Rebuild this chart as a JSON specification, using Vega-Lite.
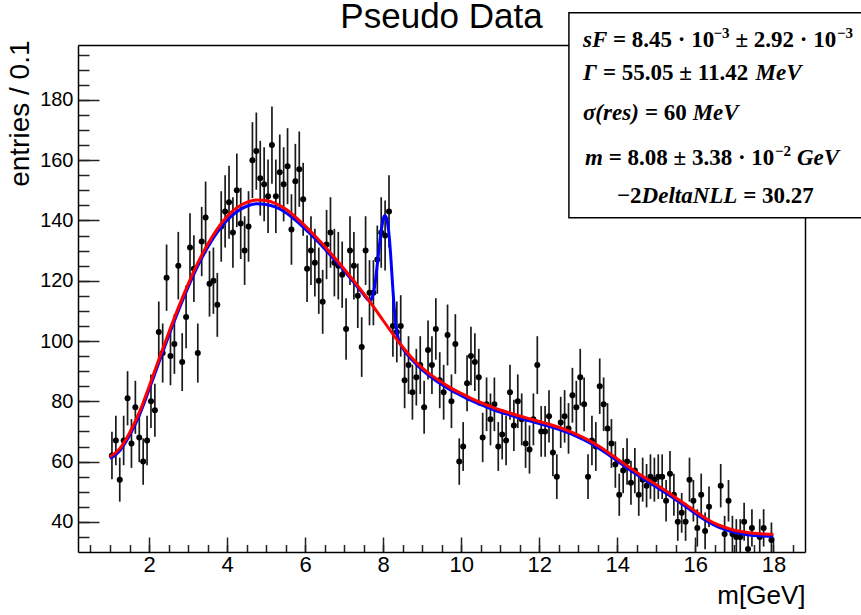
{
  "$schema": "https://vega.github.io/schema/vega-lite/v6.json",
  "width": 727,
  "height": 507,
  "autosize": {"type": "none"},
  "padding": {"left": 78, "top": 45, "right": 56, "bottom": 63},
  "background": "white",
  "config": {
    "view": {"stroke": null},
    "font": "Liberation Sans",
    "text": {"font": "Liberation Serif", "fontSize": 23, "fontWeight": "bold", "color": "black", "align": "left", "baseline": "middle"}
  },
  "datasets": {
    "pts": [
      {"x":1.05,"y":62,"e":7.9},{"x":1.15,"y":67,"e":8.2},{"x":1.25,"y":54,"e":7.3},{"x":1.35,"y":67,"e":8.2},{"x":1.45,"y":81,"e":9.0},
      {"x":1.55,"y":66,"e":8.1},{"x":1.65,"y":78,"e":8.8},{"x":1.75,"y":68,"e":8.2},{"x":1.85,"y":60,"e":7.7},{"x":1.95,"y":67,"e":8.2},
      {"x":2.05,"y":80,"e":8.9},{"x":2.15,"y":77,"e":8.8},{"x":2.25,"y":103,"e":10.1},{"x":2.35,"y":96,"e":9.8},{"x":2.45,"y":121,"e":11.0},
      {"x":2.55,"y":95,"e":9.7},{"x":2.65,"y":99,"e":9.9},{"x":2.75,"y":125,"e":11.2},{"x":2.85,"y":93,"e":9.6},{"x":2.95,"y":108,"e":10.4},
      {"x":3.05,"y":131,"e":11.4},{"x":3.15,"y":124,"e":11.1},{"x":3.25,"y":96,"e":9.8},{"x":3.35,"y":133,"e":11.5},{"x":3.45,"y":141,"e":11.9},
      {"x":3.55,"y":119,"e":10.9},{"x":3.65,"y":120,"e":11.0},{"x":3.75,"y":112,"e":10.6},{"x":3.85,"y":138,"e":11.7},{"x":3.95,"y":143,"e":12.0},
      {"x":4.05,"y":146,"e":12.1},{"x":4.15,"y":136,"e":11.7},{"x":4.25,"y":150,"e":12.2},{"x":4.35,"y":139,"e":11.8},{"x":4.45,"y":130,"e":11.4},
      {"x":4.55,"y":138,"e":11.7},{"x":4.65,"y":160,"e":12.6},{"x":4.75,"y":163,"e":12.8},{"x":4.85,"y":154,"e":12.4},{"x":4.95,"y":152,"e":12.3},
      {"x":5.05,"y":148,"e":12.2},{"x":5.15,"y":165,"e":12.8},{"x":5.25,"y":148,"e":12.2},{"x":5.35,"y":156,"e":12.5},{"x":5.45,"y":152,"e":12.3},
      {"x":5.55,"y":158,"e":12.6},{"x":5.65,"y":137,"e":11.7},{"x":5.75,"y":153,"e":12.4},{"x":5.85,"y":157,"e":12.5},{"x":5.95,"y":147,"e":12.1},
      {"x":6.05,"y":124,"e":11.1},{"x":6.15,"y":130,"e":11.4},{"x":6.25,"y":126,"e":11.2},{"x":6.35,"y":120,"e":11.0},{"x":6.45,"y":113,"e":10.6},
      {"x":6.55,"y":132,"e":11.5},{"x":6.65,"y":136,"e":11.7},{"x":6.75,"y":126,"e":11.2},{"x":6.85,"y":125,"e":11.2},{"x":6.95,"y":122,"e":11.0},
      {"x":7.05,"y":104,"e":10.2},{"x":7.15,"y":130,"e":11.4},{"x":7.25,"y":125,"e":11.2},{"x":7.35,"y":115,"e":10.7},{"x":7.45,"y":98,"e":9.9},
      {"x":7.55,"y":130,"e":11.4},{"x":7.65,"y":116,"e":10.8},{"x":7.75,"y":116,"e":10.8},{"x":7.85,"y":127,"e":11.3},{"x":7.95,"y":136,"e":11.7},
      {"x":8.05,"y":135,"e":11.6},{"x":8.15,"y":143,"e":12.0},{"x":8.25,"y":105,"e":10.2},{"x":8.35,"y":103,"e":10.1},{"x":8.45,"y":105,"e":10.2},
      {"x":8.55,"y":87,"e":9.3},{"x":8.65,"y":92,"e":9.6},{"x":8.75,"y":83,"e":9.1},{"x":8.85,"y":88,"e":9.4},{"x":8.95,"y":92,"e":9.6},
      {"x":9.05,"y":78,"e":8.8},{"x":9.15,"y":97,"e":9.8},{"x":9.25,"y":92,"e":9.6},{"x":9.35,"y":104,"e":10.2},{"x":9.45,"y":87,"e":9.3},
      {"x":9.55,"y":83,"e":9.1},{"x":9.65,"y":102,"e":10.1},{"x":9.75,"y":80,"e":8.9},{"x":9.85,"y":99,"e":9.9},{"x":9.95,"y":60,"e":7.7},
      {"x":10.05,"y":65,"e":8.1},{"x":10.15,"y":86,"e":9.3},{"x":10.25,"y":95,"e":9.7},{"x":10.35,"y":93,"e":9.6},{"x":10.45,"y":88,"e":9.4},
      {"x":10.55,"y":68,"e":8.2},{"x":10.65,"y":79,"e":8.9},{"x":10.75,"y":74,"e":8.6},{"x":10.85,"y":79,"e":8.9},{"x":10.95,"y":65,"e":8.1},
      {"x":11.05,"y":69,"e":8.3},{"x":11.15,"y":67,"e":8.2},{"x":11.25,"y":83,"e":9.1},{"x":11.35,"y":72,"e":8.5},{"x":11.45,"y":80,"e":8.9},
      {"x":11.55,"y":74,"e":8.6},{"x":11.65,"y":66,"e":8.1},{"x":11.75,"y":64,"e":8.0},{"x":11.85,"y":74,"e":8.6},{"x":11.95,"y":92,"e":9.6},
      {"x":12.05,"y":70,"e":8.4},{"x":12.15,"y":70,"e":8.4},{"x":12.25,"y":75,"e":8.7},{"x":12.35,"y":63,"e":7.9},{"x":12.45,"y":55,"e":7.4},
      {"x":12.55,"y":73,"e":8.5},{"x":12.65,"y":75,"e":8.7},{"x":12.75,"y":71,"e":8.4},{"x":12.85,"y":82,"e":9.1},{"x":12.95,"y":78,"e":8.8},
      {"x":13.05,"y":88,"e":9.4},{"x":13.15,"y":79,"e":8.9},{"x":13.25,"y":55,"e":7.4},{"x":13.35,"y":67,"e":8.2},{"x":13.45,"y":65,"e":8.1},
      {"x":13.55,"y":85,"e":9.2},{"x":13.65,"y":79,"e":8.9},{"x":13.75,"y":71,"e":8.4},{"x":13.85,"y":66,"e":8.1},{"x":13.95,"y":59,"e":7.7},
      {"x":14.05,"y":49,"e":7.0},{"x":14.15,"y":57,"e":7.5},{"x":14.25,"y":60,"e":7.7},{"x":14.35,"y":53,"e":7.3},{"x":14.45,"y":57,"e":7.5},
      {"x":14.55,"y":49,"e":7.0},{"x":14.65,"y":54,"e":7.3},{"x":14.75,"y":52,"e":7.2},{"x":14.85,"y":55,"e":7.4},{"x":14.95,"y":54,"e":7.3},
      {"x":15.05,"y":55,"e":7.4},{"x":15.15,"y":55,"e":7.4},{"x":15.25,"y":47,"e":6.9},{"x":15.35,"y":56,"e":7.5},{"x":15.45,"y":49,"e":7.0},
      {"x":15.55,"y":40,"e":6.3},{"x":15.65,"y":43,"e":6.6},{"x":15.75,"y":40,"e":6.3},{"x":15.85,"y":54,"e":7.3},{"x":15.95,"y":47,"e":6.9},
      {"x":16.05,"y":38,"e":6.2},{"x":16.15,"y":49,"e":7.0},{"x":16.25,"y":37,"e":6.1},{"x":16.35,"y":45,"e":6.7},{"x":16.65,"y":52,"e":7.2},
      {"x":16.75,"y":36,"e":6.0},{"x":16.85,"y":47,"e":6.9},{"x":16.95,"y":36,"e":6.0},{"x":17.05,"y":35,"e":5.9},{"x":17.15,"y":35,"e":5.9},
      {"x":17.25,"y":40,"e":6.3},{"x":17.35,"y":31,"e":5.6},{"x":17.45,"y":38,"e":6.2},{"x":17.65,"y":35,"e":5.9},{"x":17.75,"y":38,"e":6.2},
      {"x":17.95,"y":34,"e":5.8}
    ],
    "red": [
      {"x":1.0,"y":61.6},{"x":1.25,"y":64.3},{"x":1.5,"y":69.5},{"x":1.75,"y":76.3},{"x":2.0,"y":84.8},{"x":2.25,"y":93.8},
      {"x":2.5,"y":102.6},{"x":2.75,"y":111.0},{"x":3.0,"y":118.8},{"x":3.25,"y":125.9},{"x":3.5,"y":132.0},{"x":3.75,"y":137.2},
      {"x":4.0,"y":141.3},{"x":4.25,"y":144.2},{"x":4.5,"y":146.0},{"x":4.75,"y":146.8},{"x":5.0,"y":146.6},{"x":5.25,"y":145.6},
      {"x":5.5,"y":143.8},{"x":5.75,"y":141.2},{"x":6.0,"y":138.2},{"x":6.25,"y":134.9},{"x":6.5,"y":131.4},{"x":6.75,"y":127.7},
      {"x":7.0,"y":123.9},{"x":7.25,"y":119.9},{"x":7.5,"y":115.8},{"x":7.75,"y":111.4},{"x":8.0,"y":106.8},{"x":8.25,"y":102.3},
      {"x":8.5,"y":98.0},{"x":8.75,"y":94.2},{"x":9.0,"y":91.1},{"x":9.25,"y":88.5},{"x":9.5,"y":86.3},{"x":9.75,"y":84.3},
      {"x":10.0,"y":82.6},{"x":10.25,"y":81.0},{"x":10.5,"y":79.6},{"x":10.75,"y":78.3},{"x":11.0,"y":77.1},{"x":11.25,"y":76.1},
      {"x":11.5,"y":75.1},{"x":11.75,"y":74.2},{"x":12.0,"y":73.3},{"x":12.25,"y":72.4},{"x":12.5,"y":71.4},{"x":12.75,"y":70.2},
      {"x":13.0,"y":68.8},{"x":13.25,"y":67.2},{"x":13.5,"y":65.3},{"x":13.75,"y":63.2},{"x":14.0,"y":60.9},{"x":14.25,"y":58.6},
      {"x":14.5,"y":56.4},{"x":14.75,"y":54.3},{"x":15.0,"y":52.3},{"x":15.25,"y":50.2},{"x":15.5,"y":48.0},{"x":15.75,"y":45.8},
      {"x":16.0,"y":43.5},{"x":16.25,"y":41.3},{"x":16.5,"y":39.5},{"x":16.75,"y":38.2},{"x":17.0,"y":37.2},{"x":17.25,"y":36.6},
      {"x":17.5,"y":36.2},{"x":17.75,"y":36.0},{"x":18.0,"y":35.9}
    ],
    "blue": [
      {"x":1.0,"y":61.0},{"x":1.25,"y":63.6},{"x":1.5,"y":68.6},{"x":1.75,"y":75.3},{"x":2.0,"y":83.8},{"x":2.25,"y":92.8},
      {"x":2.5,"y":101.6},{"x":2.75,"y":110.0},{"x":3.0,"y":117.8},{"x":3.25,"y":124.9},{"x":3.5,"y":131.0},{"x":3.75,"y":136.1},
      {"x":4.0,"y":140.1},{"x":4.25,"y":142.9},{"x":4.5,"y":144.7},{"x":4.75,"y":145.5},{"x":5.0,"y":145.3},{"x":5.25,"y":144.4},
      {"x":5.5,"y":142.6},{"x":5.75,"y":140.1},{"x":6.0,"y":137.2},{"x":6.25,"y":134.0},{"x":6.5,"y":130.6},{"x":6.75,"y":127.0},
      {"x":7.0,"y":123.3},{"x":7.25,"y":119.4},{"x":7.4,"y":117.0},{"x":7.5,"y":115.4},{"x":7.6,"y":113.8},{"x":7.65,"y":113.3},
      {"x":7.7,"y":113.9},{"x":7.75,"y":115.8},{"x":7.8,"y":119.8},{"x":7.85,"y":125.5},{"x":7.9,"y":131.2},{"x":7.95,"y":136.5},
      {"x":8.0,"y":140.3},{"x":8.04,"y":141.6},{"x":8.08,"y":141.0},{"x":8.12,"y":138.5},{"x":8.16,"y":134.0},{"x":8.2,"y":127.0},
      {"x":8.25,"y":117.0},{"x":8.3,"y":108.5},{"x":8.35,"y":103.0},{"x":8.4,"y":100.2},{"x":8.5,"y":97.6},{"x":8.75,"y":93.6},
      {"x":9.0,"y":90.4},{"x":9.25,"y":87.8},{"x":9.5,"y":85.6},{"x":9.75,"y":83.6},{"x":10.0,"y":81.9},{"x":10.25,"y":80.3},
      {"x":10.5,"y":78.9},{"x":10.75,"y":77.6},{"x":11.0,"y":76.4},{"x":11.25,"y":75.4},{"x":11.5,"y":74.4},{"x":11.75,"y":73.5},
      {"x":12.0,"y":72.6},{"x":12.25,"y":71.7},{"x":12.5,"y":70.7},{"x":12.75,"y":69.5},{"x":13.0,"y":68.1},{"x":13.25,"y":66.5},
      {"x":13.5,"y":64.6},{"x":13.75,"y":62.5},{"x":14.0,"y":60.2},{"x":14.25,"y":57.9},{"x":14.5,"y":55.7},{"x":14.75,"y":53.6},
      {"x":15.0,"y":51.6},{"x":15.25,"y":49.5},{"x":15.5,"y":47.3},{"x":15.75,"y":45.1},{"x":16.0,"y":42.8},{"x":16.25,"y":40.6},
      {"x":16.5,"y":38.8},{"x":16.75,"y":37.5},{"x":17.0,"y":36.5},{"x":17.25,"y":35.9},{"x":17.5,"y":35.5},{"x":17.75,"y":35.3},
      {"x":18.0,"y":35.2}
    ]
  },
  "layer": [
    {
      "data": {"name": "pts"},
      "mark": {"type": "errorbar", "ticks": false, "color": "#1a1a1a", "thickness": 1.7, "clip": true},
      "encoding": {
        "x": {"field": "x", "type": "quantitative", "scale": {"domain": [0.18, 18.81], "nice": false, "zero": false},
          "axis": {"orient": "bottom", "values": [0.5,1,1.5,2,2.5,3,3.5,4,4.5,5,5.5,6,6.5,7,7.5,8,8.5,9,9.5,10,10.5,11,11.5,12,12.5,13,13.5,14,14.5,15,15.5,16,16.5,17,17.5,18,18.5],
            "labels": false, "domain": false, "grid": false, "ticks": true, "tickSize": -7.5, "tickColor": "#222", "tickWidth": 1.5, "title": null}},
        "y": {"field": "y", "type": "quantitative", "scale": {"domain": [30, 198.2], "nice": false, "zero": false},
          "axis": {"orient": "left", "values": [35,40,45,50,55,60,65,70,75,80,85,90,95,100,105,110,115,120,125,130,135,140,145,150,155,160,165,170,175,180,185,190,195],
            "labels": false, "domain": false, "grid": false, "ticks": true, "tickSize": -11, "tickColor": "#222", "tickWidth": 1.5, "title": null}},
        "yError": {"field": "e"}
      }
    },
    {
      "data": {"name": "pts"},
      "mark": {"type": "circle", "size": 36, "color": "black", "opacity": 1, "clip": true},
      "encoding": {
        "x": {"field": "x", "type": "quantitative", "scale": {"domain": [0.18, 18.81], "nice": false, "zero": false},
          "axis": {"orient": "bottom", "values": [2,4,6,8,10,12,14,16,18], "labels": false, "domain": false, "grid": false, "ticks": true, "tickSize": -15, "tickColor": "#222", "tickWidth": 1.5, "title": null}},
        "y": {"field": "y", "type": "quantitative", "scale": {"domain": [30, 198.2], "nice": false, "zero": false},
          "axis": {"orient": "left", "values": [40,60,80,100,120,140,160,180], "labels": false, "domain": false, "grid": false, "ticks": true, "tickSize": -21, "tickColor": "#222", "tickWidth": 1.5, "title": null}}
      }
    },
    {
      "data": {"name": "blue"},
      "mark": {"type": "line", "color": "#0000ff", "strokeWidth": 3, "interpolate": "monotone"},
      "encoding": {
        "x": {"field": "x", "type": "quantitative", "scale": {"domain": [0.18, 18.81], "nice": false, "zero": false},
          "axis": {"orient": "bottom", "values": [2,4,6,8,10,12,14,16,18], "ticks": false, "grid": false, "domain": true, "domainColor": "black", "domainWidth": 1.5,
            "labelFont": "Liberation Sans", "labelFontSize": 22, "labelColor": "black", "labelPadding": 2.5,
            "title": "m[GeV]", "titleFont": "Liberation Sans", "titleFontSize": 26, "titleFontWeight": "normal", "titleColor": "black", "titleAnchor": "end", "titleBaseline": "alphabetic", "titleY": 51}},
        "y": {"field": "y", "type": "quantitative", "scale": {"domain": [30, 198.2], "nice": false, "zero": false},
          "axis": {"orient": "left", "values": [40,60,80,100,120,140,160,180], "ticks": false, "grid": false, "domain": true, "domainColor": "black", "domainWidth": 1.5,
            "labelFont": "Liberation Sans", "labelFontSize": 20, "labelColor": "black", "labelPadding": 5,
            "title": "entries / 0.1", "titleFont": "Liberation Sans", "titleFontSize": 28, "titleFontWeight": "normal", "titleColor": "black", "titleAnchor": "end", "titleBaseline": "alphabetic", "titleX": -50, "titleY": -5}}
      }
    },
    {
      "data": {"name": "red"},
      "mark": {"type": "line", "color": "#ff0000", "strokeWidth": 3, "interpolate": "monotone"},
      "encoding": {
        "x": {"field": "x", "type": "quantitative", "scale": {"domain": [0.18, 18.81], "nice": false, "zero": false},
          "axis": {"orient": "top", "labels": false, "ticks": false, "grid": false, "domain": true, "domainColor": "black", "domainWidth": 1.5, "title": null}},
        "y": {"field": "y", "type": "quantitative", "scale": {"domain": [30, 198.2], "nice": false, "zero": false},
          "axis": {"orient": "right", "labels": false, "ticks": false, "grid": false, "domain": true, "domainColor": "black", "domainWidth": 1.5, "title": null}}
      }
    },
    {
      "data": {"values": [{}]},
      "mark": {"type": "text", "text": "Pseudo Data", "font": "Liberation Sans", "fontSize": 35, "fontWeight": "normal", "align": "center", "baseline": "alphabetic"},
      "encoding": {
        "x": {"datum": 9.496, "type": "quantitative", "axis": null, "scale": {"domain": [0.18, 18.81], "nice": false, "zero": false}},
        "y": {"datum": 203.9, "type": "quantitative", "axis": null, "scale": {"domain": [30, 198.2], "nice": false, "zero": false}}
      }
    },
    {
      "data": {"values": [{}]},
      "mark": {"type": "rect", "fill": "white", "stroke": "black", "strokeWidth": 1.5},
      "encoding": {
        "x": {"datum": 12.76, "type": "quantitative", "axis": null, "scale": {"domain": [0.18, 18.81], "nice": false, "zero": false}},
        "x2": {"datum": 20.6},
        "y": {"datum": 140.9, "type": "quantitative", "axis": null, "scale": {"domain": [30, 198.2], "nice": false, "zero": false}},
        "y2": {"datum": 208.9}
      }
    },
    {
      "data": {"values": [{}]},
      "encoding": {
        "x": {"datum": 13.12, "type": "quantitative", "axis": null, "scale": {"domain": [0.18, 18.81], "nice": false, "zero": false}},
        "y": {"datum": 199.9, "type": "quantitative", "axis": null, "scale": {"domain": [30, 198.2], "nice": false, "zero": false}}
      },
      "layer": [
        {"mark": {"type": "text", "text": "sF", "fontStyle": "italic", "dx": 0}},
        {"mark": {"type": "text", "text": "= 8.45 · 10", "dx": 30}},
        {"mark": {"type": "text", "text": "−3", "fontSize": 15, "dx": 130.5, "dy": -7}},
        {"mark": {"type": "text", "text": "± 2.92 · 10", "dx": 152.5}},
        {"mark": {"type": "text", "text": "−3", "fontSize": 15, "dx": 254, "dy": -7}}
      ]
    },
    {
      "data": {"values": [{}]},
      "encoding": {
        "x": {"datum": 13.12, "type": "quantitative", "axis": null, "scale": {"domain": [0.18, 18.81], "nice": false, "zero": false}},
        "y": {"datum": 189.0, "type": "quantitative", "axis": null, "scale": {"domain": [30, 198.2], "nice": false, "zero": false}}
      },
      "layer": [
        {"mark": {"type": "text", "text": "Γ", "fontStyle": "italic", "dx": 0}},
        {"mark": {"type": "text", "text": "= 55.05 ± 11.42", "dx": 20}},
        {"mark": {"type": "text", "text": "MeV", "fontStyle": "italic", "dx": 172.6}}
      ]
    },
    {
      "data": {"values": [{}]},
      "encoding": {
        "x": {"datum": 13.12, "type": "quantitative", "axis": null, "scale": {"domain": [0.18, 18.81], "nice": false, "zero": false}},
        "y": {"datum": 175.7, "type": "quantitative", "axis": null, "scale": {"domain": [30, 198.2], "nice": false, "zero": false}}
      },
      "layer": [
        {"mark": {"type": "text", "text": "σ(res)", "fontStyle": "italic", "dx": 0}},
        {"mark": {"type": "text", "text": "= 60", "dx": 62}},
        {"mark": {"type": "text", "text": "MeV", "fontStyle": "italic", "dx": 109.7}}
      ]
    },
    {
      "data": {"values": [{}]},
      "encoding": {
        "x": {"datum": 13.12, "type": "quantitative", "axis": null, "scale": {"domain": [0.18, 18.81], "nice": false, "zero": false}},
        "y": {"datum": 160.8, "type": "quantitative", "axis": null, "scale": {"domain": [30, 198.2], "nice": false, "zero": false}}
      },
      "layer": [
        {"mark": {"type": "text", "text": "m", "fontStyle": "italic", "dx": 2}},
        {"mark": {"type": "text", "text": "= 8.08 ± 3.38 · 10", "dx": 25.7}},
        {"mark": {"type": "text", "text": "−2", "fontSize": 15, "dx": 192, "dy": -7}},
        {"mark": {"type": "text", "text": "GeV", "fontStyle": "italic", "dx": 214}}
      ]
    },
    {
      "data": {"values": [{}]},
      "encoding": {
        "x": {"datum": 13.12, "type": "quantitative", "axis": null, "scale": {"domain": [0.18, 18.81], "nice": false, "zero": false}},
        "y": {"datum": 148.2, "type": "quantitative", "axis": null, "scale": {"domain": [30, 198.2], "nice": false, "zero": false}}
      },
      "layer": [
        {"mark": {"type": "text", "text": "−2", "dx": 34}},
        {"mark": {"type": "text", "text": "DeltaNLL", "fontStyle": "italic", "dx": 58.6}},
        {"mark": {"type": "text", "text": "= 30.27", "dx": 160.2}}
      ]
    }
  ],
  "resolve": {"axis": {"x": "independent", "y": "independent"}}
}
